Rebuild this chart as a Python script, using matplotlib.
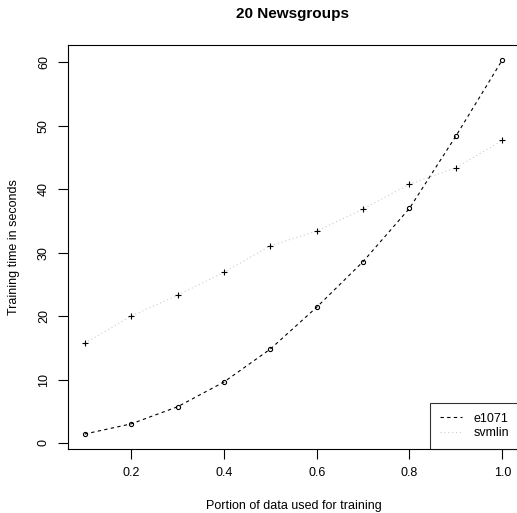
import numpy as np
import matplotlib.pyplot as plt

plt.rcParams['font.family'] = ['Liberation Sans', 'DejaVu Sans']

portion = [0.1, 0.2, 0.3, 0.4, 0.5, 0.6, 0.7, 0.8, 0.9, 1.0]
e1071 = [1.4, 3.0, 5.7, 9.6, 14.8, 21.4, 28.6, 37.0, 48.4, 60.4]
svmlin = [15.7, 20.0, 23.3, 26.9, 31.1, 33.4, 36.9, 40.8, 43.4, 47.7]

W, H = 517, 513
fig = plt.figure(figsize=(W / 100, H / 100), dpi=100)
ax = fig.add_axes([68 / W, 1 - 449 / H, (519 - 68) / W, (449 - 45) / H])

ax.plot(portion, e1071, color='black', linestyle=(0, (3, 3)), linewidth=0.8, label='e1071')
ax.plot(portion, e1071, linestyle='none', marker='o', markersize=3,
        markerfacecolor='none', markeredgecolor='black', markeredgewidth=0.8)
ax.plot(portion, svmlin, color='#cccccc', linestyle=(0, (1, 2.5)), linewidth=0.8, label='svmlin')
ax.plot(portion, svmlin, linestyle='none', marker='+', markersize=4,
        color='black', markeredgewidth=0.8)

def pad(v):
    lo, hi = min(v), max(v)
    d = (hi - lo) * 0.04
    return lo - d, hi + d

ax.set_xlim(*pad(portion))
ax.set_ylim(*pad(e1071 + svmlin))
ax.set_xticks([0.2, 0.4, 0.6, 0.8, 1.0])
ax.set_yticks([0, 10, 20, 30, 40, 50, 60])
ax.tick_params(direction='out', length=7, width=0.8, labelsize=9, pad=6)
for lab in ax.get_yticklabels():
    lab.set_rotation(90)
    lab.set_va('center')
for s in ax.spines.values():
    s.set_linewidth(0.8)

ax.set_xlabel('Portion of data used for training', fontsize=9, labelpad=15)
ax.set_ylabel('Training time in seconds', fontsize=9, labelpad=13)
fig.text(293 / W, 1 - 14 / H, '20 Newsgroups', fontsize=11, fontweight='bold',
         ha='center', va='center')

leg = ax.legend(loc='lower right', bbox_to_anchor=(1.0, 0.0), fontsize=9,
                frameon=True, fancybox=False, handlelength=1.8,
                borderpad=0.8, labelspacing=0.2, borderaxespad=0, handletextpad=0.9)
leg.get_frame().set_edgecolor('black')
leg.get_frame().set_linewidth(0.8)

fig.savefig('out.png', dpi=100)
